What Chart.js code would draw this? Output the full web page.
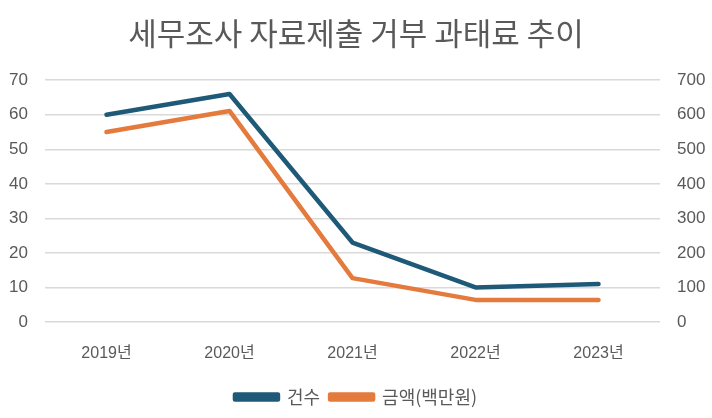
<!DOCTYPE html>
<html><head><meta charset="utf-8">
<script src="https://cdn.jsdelivr.net/npm/chart.js@4/dist/chart.umd.min.js"></script>
<style>html,body{margin:0;padding:0;background:#fff}canvas{display:block}</style>
</head><body>
<canvas id="c" width="712" height="418"></canvas>
<script>
const categories = ['2019년','2020년','2021년','2022년','2023년'];
const countValues = [60, 66, 23, 10, 11];
const amountValues = [550, 611, 127, 64, 64];
const seriesNames = ['건수','금액(백만원)'];
const titleText = '세무조사 자료제출 거부 과태료 추이';

const FONT = '"Liberation Sans", "Noto Sans CJK KR", sans-serif';
const GREY = '#595959';
const PAD_BOTTOM = 2;
new Chart(document.getElementById('c'), {
  type: 'line',
  data: {
    labels: categories,
    datasets: [
      {label: seriesNames[0], data: countValues, yAxisID: 'y', borderColor: '#1E5A78', backgroundColor: '#1E5A78', borderWidth: 4.5, pointRadius: 0, borderCapStyle: 'round', borderJoinStyle: 'round', tension: 0},
      {label: seriesNames[1], data: amountValues, yAxisID: 'y1', borderColor: '#E47A3C', backgroundColor: '#E47A3C', borderWidth: 4.5, pointRadius: 0, borderCapStyle: 'round', borderJoinStyle: 'round', tension: 0}
    ]
  },
  options: {
    responsive: false, animation: false,
    layout: {padding: {top: 0, bottom: PAD_BOTTOM, left: 0, right: 0}},
    plugins: {
      title: {display: true, text: titleText, color: GREY, font: {family: '"Noto Sans CJK KR", sans-serif', size: 31, weight: 'normal'}, padding: {top: 15, bottom: 28}},
      legend: {position: 'bottom', labels: {color: GREY, font: {family: '"Noto Sans CJK KR", sans-serif', size: 18}, boxWidth: 43, boxHeight: 5, padding: 10}},
      tooltip: {enabled: false}
    },
    scales: {
      x: {offset: true, grid: {display: false}, border: {display: false}, ticks: {color: GREY, font: {family: FONT, size: 16}, padding: 14},
          afterFit: s => { s.height = s.chart.height - 322 - PAD_BOTTOM - (s.chart.legend ? s.chart.legend.height : 40); }},
      y: {position: 'left', min: 0, max: 70, ticks: {stepSize: 10, color: GREY, font: {family: FONT, size: 17}, padding: 17},
          grid: {color: '#D9D9D9', lineWidth: 1.5, drawTicks: false}, border: {display: false},
          afterFit: s => { s.width = 45; }},
      y1: {position: 'right', min: 0, max: 700, ticks: {stepSize: 100, color: GREY, font: {family: FONT, size: 17}, padding: 17},
          grid: {display: false, drawTicks: false}, border: {display: false},
          afterFit: s => { s.width = 52; }}
    }
  }
});
</script>
</body></html>
